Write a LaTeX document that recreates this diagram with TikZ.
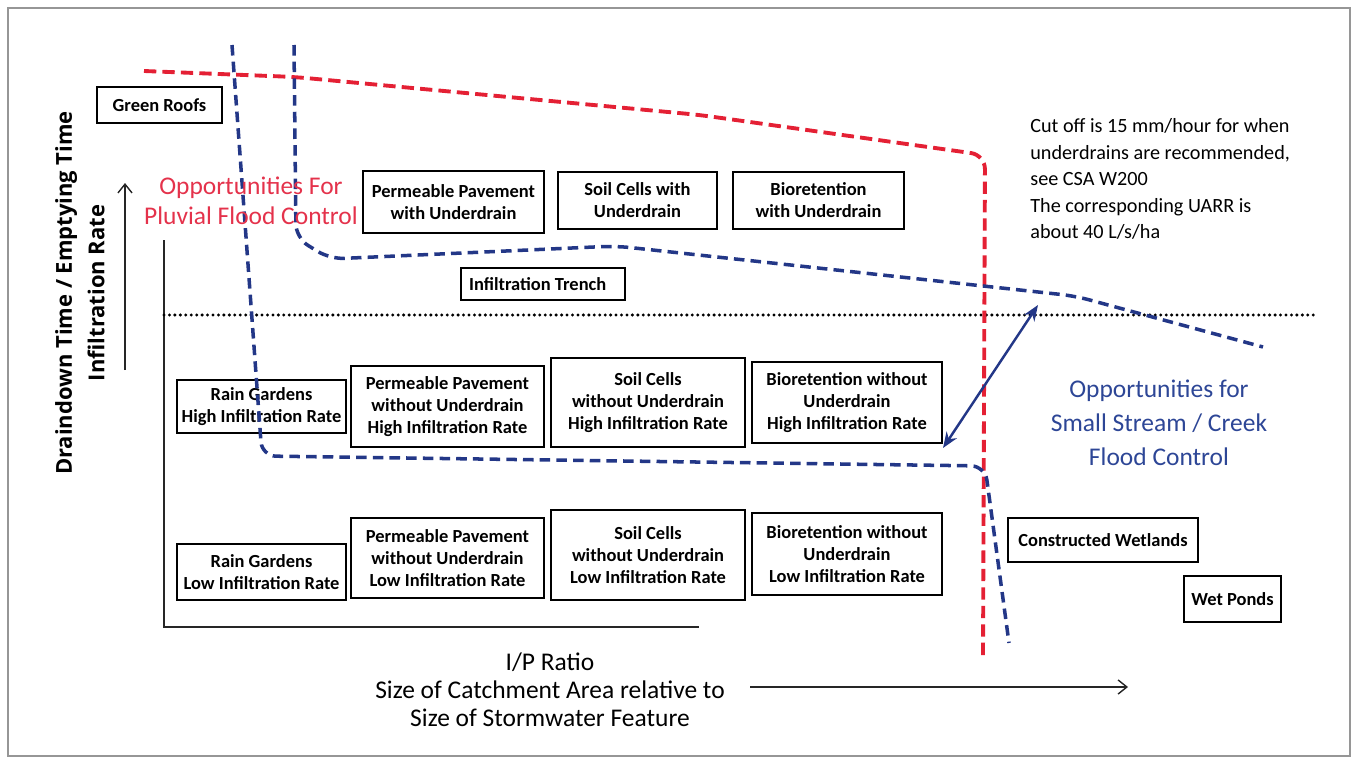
\documentclass[tikz,border=0pt]{standalone}
\usepackage{fontspec}
\setmainfont{Carlito}
\newfontfamily\axisfont{Open Sans}
\usetikzlibrary{arrows.meta}
\definecolor{floodred}{RGB}{228,32,52}
\definecolor{creekblue}{RGB}{35,55,135}
\definecolor{pluvialtext}{RGB}{228,50,75}
\definecolor{creektext}{RGB}{45,70,150}
\definecolor{framegray}{RGB}{150,150,150}
\tikzset{
	boxline/.style={line width=1.6pt},
	boxtext/.style={font=\fontsize{10.5}{12.5}\selectfont\bfseries, align=center},
	redline/.style={floodred, line width=2.2pt, dash pattern=on 7pt off 3.5pt, rounded corners=8pt},
	blueline/.style={creekblue, line width=2pt, dash pattern=on 6pt off 3.5pt, rounded corners=8pt},
	axisline/.style={line width=0.8pt, black!85},
}
\begin{document}
\begin{tikzpicture}[x=0.02cm, y=-0.02cm]
		\useasboundingbox (0,0) rectangle (1357,764);
		\draw[framegray, line width=0.9pt] (8,8) rectangle (1350,756);
		
		% axes
		\coordinate (origin) at (164,627);
		\draw[axisline] (164,240) -- (origin) -- (699,627);
		\draw[axisline, -{Straight Barb[length=5pt, width=8pt]}] (125,370) -- (125,183);
		\draw[axisline, -{Straight Barb[length=5pt, width=8pt]}] (750,687) -- (1128,687);
		\node[rotate=90, align=center, font=\axisfont\fontsize{12.5}{18.5}\selectfont\bfseries] (ylabel) at (80,293) {Draindown Time / Emptying Time\\Infiltration Rate};
		\node[align=center, font=\fontsize{14.5}{16}\selectfont] (xlabel) at (550,690) {I/P Ratio\\Size of Catchment Area relative to\\Size of Stormwater Feature};
		
		% cut off line
		\draw[line width=1.9pt, dash pattern=on 0pt off 3.1pt, line cap=round] (164,315) -- (1318,315);
		
		% features
		\draw[boxline] (97,87) rectangle (222,123) node[pos=.5, boxtext] (greenroofs) {Green Roofs};
		\draw[boxline] (363,171) rectangle (544,233) node[pos=.5, boxtext] (ppwith) {Permeable Pavement\\with Underdrain};
		\draw[boxline] (558,172) rectangle (717,229) node[pos=.5, boxtext] (scwith) {Soil Cells with\\Underdrain};
		\draw[boxline] (733,172) rectangle (904,229) node[pos=.5, boxtext] (biowith) {Bioretention\\with Underdrain};
		\draw[boxline] (461,268) rectangle (625,300) node[pos=.5, boxtext, xshift=-3] (trench) {Infiltration Trench};
		\draw[boxline] (177,380) rectangle (346,433) node[pos=.5, boxtext] (rghigh) {Rain Gardens\\High Infiltration Rate};
		\draw[boxline] (351,366) rectangle (544,447) node[pos=.5, boxtext] (pphigh) {Permeable Pavement\\without Underdrain\\High Infiltration Rate};
		\draw[boxline] (551,358) rectangle (745,447) node[pos=.5, boxtext] (schigh) {Soil Cells\\without Underdrain\\High Infiltration Rate};
		\draw[boxline] (752,362) rectangle (942,443) node[pos=.5, boxtext] (biohigh) {Bioretention without\\Underdrain\\High Infiltration Rate};
		\draw[boxline] (177,544) rectangle (346,600) node[pos=.5, boxtext] (rglow) {Rain Gardens\\Low Infiltration Rate};
		\draw[boxline] (351,518) rectangle (544,598) node[pos=.5, boxtext] (pplow) {Permeable Pavement\\without Underdrain\\Low Infiltration Rate};
		\draw[boxline] (551,510) rectangle (745,600) node[pos=.5, boxtext] (sclow) {Soil Cells\\without Underdrain\\Low Infiltration Rate};
		\draw[boxline] (752,513) rectangle (942,595) node[pos=.5, boxtext] (biolow) {Bioretention without\\Underdrain\\Low Infiltration Rate};
		\draw[boxline] (1008,518) rectangle (1198,562) node[pos=.5, boxtext] (wetlands) {Constructed Wetlands};
		\draw[boxline] (1184,576) rectangle (1281,622) node[pos=.5, boxtext] (wetponds) {Wet Ponds};
		
		% boundaries
		\draw[redline] (144,71) -- (295,77) -- (700,115) -- (985,155) -- (983,658);
		\draw[blueline] (232,45) -- (262,456) -- (985,466) -- (1009,643);
		\draw[blueline] (294,45) -- (296,238) -- (330,259) -- (616,246) -- (1075,296) -- (1263,347);
		
		\coordinate (lowtip) at (943,448);
		\coordinate (hightip) at (1038,305);
		\draw[creekblue, line width=1.4pt, {Stealth[length=9pt, width=7pt]}-{Stealth[length=9pt, width=7pt]}] (lowtip) -- (hightip);
		
		% labels
		\node[align=center, text=pluvialtext, font=\fontsize{14.5}{17}\selectfont] (pluvial) at (251,201) {Opportunities For\\Pluvial Flood Control};
		\node[align=center, text=creektext, font=\fontsize{14.5}{19.3}\selectfont] (creek) at (1159,423) {Opportunities for\\Small Stream / Creek\\Flood Control};
		\node[anchor=west, align=left, inner sep=0, font=\fontsize{11.5}{15.1}\selectfont] (cutoff) at (1030,179) {Cut off is 15 mm/hour for when\\underdrains are recommended,\\see CSA W200\\The corresponding UARR is\\about 40 L/s/ha};
		
\end{tikzpicture}
\end{document}
